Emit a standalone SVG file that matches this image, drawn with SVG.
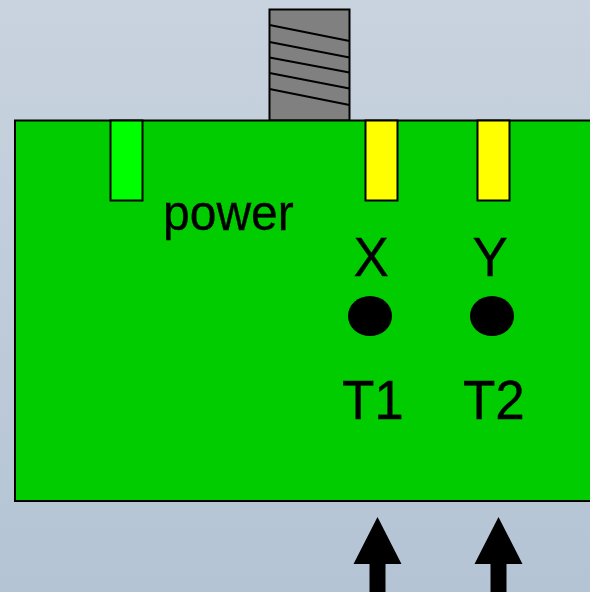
<svg xmlns="http://www.w3.org/2000/svg" width="590" height="592" viewBox="0 0 590 592">
<defs>
<linearGradient id="bg" x1="0" y1="0" x2="0" y2="1"><stop offset="0" stop-color="#c9d3df"/><stop offset="1" stop-color="#b4c4d4"/></linearGradient>
</defs>
<style>
.o{stroke:#000;stroke-width:2}
text{font-family:"Liberation Sans",Arial,sans-serif;fill:#000;stroke:#000;stroke-width:.3}
.big{font-size:53px}
.slot{stroke:#000;stroke-width:2}
.a{fill:#000}
</style>
<rect width="590" height="592" fill="url(#bg)"/>
<g id="screw">
<rect class="o" x="269.500" y="9.500" width="80" height="111" fill="#808080"/>
<path class="o" fill="none" d="M269.500 25L349.500 41M269.500 42L349.500 57.500M269.500 57.500L349.500 72.500M269.500 73L349.500 88.500M269.500 89L349.500 105"/>
</g>
<g id="board">
<rect class="o" x="15" y="120.500" width="590" height="380.500" fill="#00cc00"/>
</g>
<g id="power-slot"><rect class="slot" x="110.500" y="120.500" width="32" height="80" fill="#00ff00"/></g>
<g id="x-slot"><rect class="slot" x="365.500" y="120.500" width="32" height="80" fill="#ffff00"/></g>
<g id="y-slot"><rect class="slot" x="477.500" y="120.500" width="32" height="80" fill="#ffff00"/></g>
<g id="power-label"><text transform="translate(163 230) scale(1 1.05)" font-size="48">power</text></g>
<g id="t1-node">
<text class="big" transform="translate(353.500 276) scale(1 1.05)">X</text>
<ellipse cx="370" cy="316" rx="22" ry="20"/>
<text class="big" transform="translate(342 419) scale(1 1.05)">T1</text>
</g>
<g id="t2-node">
<text class="big" transform="translate(472.500 276) scale(1 1.05)">Y</text>
<ellipse cx="492" cy="316" rx="22" ry="20"/>
<text class="big" transform="translate(463 419) scale(1 1.05)">T2</text>
</g>
<g id="connectors">
<path class="a" d="M377.500 517L401.500 564H385.500V592H369.500V564H353.500Z"/>
<path class="a" d="M498.500 517L522.500 564H506.500V592H490.500V564H474.500Z"/>
</g>
</svg>
